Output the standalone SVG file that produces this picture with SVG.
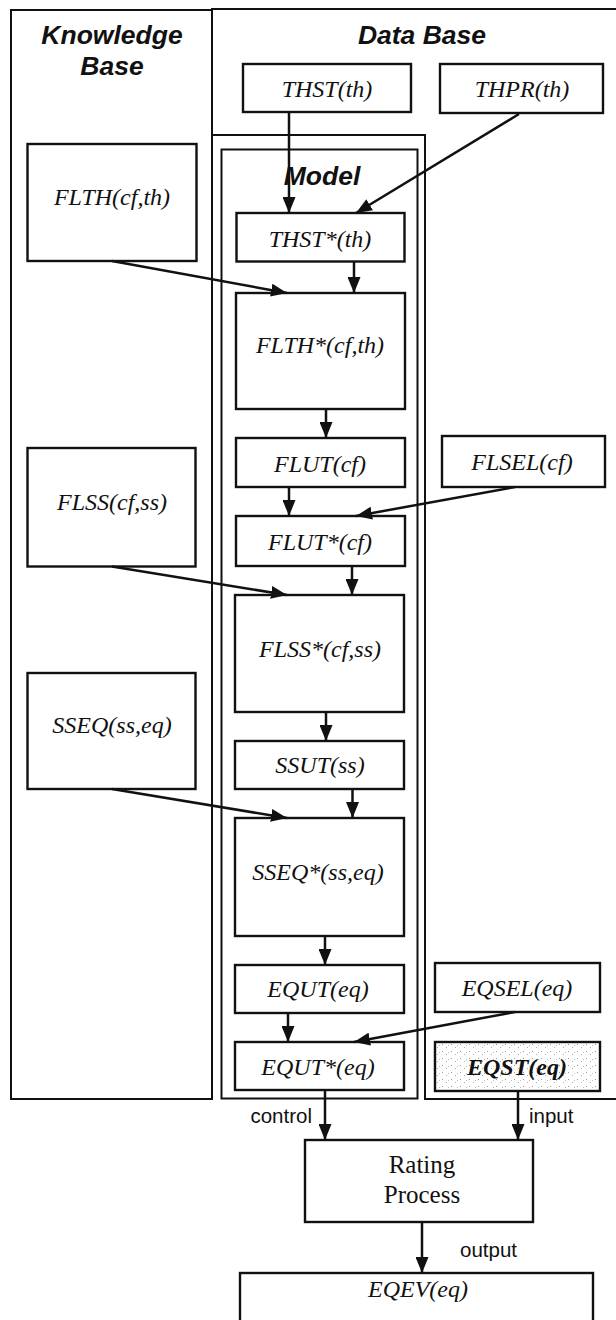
<svg xmlns="http://www.w3.org/2000/svg" width="616" height="1320" viewBox="0 0 616 1320">
<defs>
<style>
.frame{fill:none;stroke:#111;stroke-width:2}
.box{fill:#fff;stroke:#111;stroke-width:2.4}
.hdr{font-family:"Liberation Sans",Arial,sans-serif;font-weight:bold;font-style:italic;font-size:26.5px;fill:#111;text-anchor:middle}
.lbl{font-family:"Liberation Serif","Times New Roman",serif;font-style:italic;font-size:24px;fill:#111;text-anchor:middle}
.rp{font-family:"Liberation Serif","Times New Roman",serif;font-size:25px;fill:#111;text-anchor:middle}
.sm{font-family:"Liberation Sans",Arial,sans-serif;font-size:20.5px;fill:#111}
.conn path{fill:none;stroke:#111;stroke-width:2.5;marker-end:url(#ah)}
</style>
<marker id="ah" markerUnits="userSpaceOnUse" markerWidth="17" markerHeight="13" refX="16" refY="6.5" orient="auto">
<path d="M0,0 L16,6.5 L0,13 z" fill="#111"/>
</marker>
<pattern id="speck" width="9" height="7" patternUnits="userSpaceOnUse">
<rect x="1" y="1" width="1" height="1" fill="#999"/>
<rect x="5" y="4" width="1" height="1" fill="#aaa"/>
<rect x="7" y="2" width="1" height="1" fill="#bbb"/>
</pattern>
</defs>

<g id="frames">
<rect class="frame" x="11" y="10" width="201" height="1089"/>
<path class="frame" d="M212,1099 V9 H620 M620,1099 H425 V135 H212"/>
<rect class="frame" x="221.5" y="149.5" width="196" height="949"/>
<text class="hdr" x="112" y="44">Knowledge</text>
<text class="hdr" x="112" y="75">Base</text>
<text class="hdr" x="422" y="44">Data Base</text>
<text class="hdr" x="322" y="185">Model</text>
</g>

<g id="THST"><rect class="box" x="243" y="64" width="168" height="48"/><text class="lbl" x="327" y="97">THST(th)</text></g>
<g id="THPR"><rect class="box" x="440" y="64" width="163" height="49"/><text class="lbl" x="522" y="97">THPR(th)</text></g>
<g id="FLTH"><rect class="box" x="27.5" y="144" width="169" height="117"/><text class="lbl" x="112" y="205">FLTH(cf,th)</text></g>
<g id="THSTs"><rect class="box" x="236.5" y="213" width="168" height="48.5"/><text class="lbl" x="320" y="247">THST*(th)</text></g>
<g id="FLTHs"><rect class="box" x="236" y="293" width="169" height="116"/><text class="lbl" x="320" y="353">FLTH*(cf,th)</text></g>
<g id="FLUT"><rect class="box" x="236" y="438" width="169" height="49"/><text class="lbl" x="320" y="472">FLUT(cf)</text></g>
<g id="FLSEL"><rect class="box" x="442" y="436" width="163" height="51"/><text class="lbl" x="522" y="470">FLSEL(cf)</text></g>
<g id="FLSS"><rect class="box" x="27.5" y="448" width="168" height="118.5"/><text class="lbl" x="112" y="510">FLSS(cf,ss)</text></g>
<g id="FLUTs"><rect class="box" x="236" y="516" width="169" height="50"/><text class="lbl" x="320" y="550">FLUT*(cf)</text></g>
<g id="FLSSs"><rect class="box" x="235" y="595" width="169" height="117"/><text class="lbl" x="320" y="657">FLSS*(cf,ss)</text></g>
<g id="SSEQ"><rect class="box" x="27.5" y="673" width="168" height="116"/><text class="lbl" x="112" y="733">SSEQ(ss,eq)</text></g>
<g id="SSUT"><rect class="box" x="235" y="741" width="169" height="48"/><text class="lbl" x="320" y="773">SSUT(ss)</text></g>
<g id="SSEQs"><rect class="box" x="235" y="818" width="169" height="118"/><text class="lbl" x="318" y="880">SSEQ*(ss,eq)</text></g>
<g id="EQUT"><rect class="box" x="235" y="965" width="169" height="48"/><text class="lbl" x="318" y="997">EQUT(eq)</text></g>
<g id="EQSEL"><rect class="box" x="435" y="963" width="165" height="49"/><text class="lbl" x="517" y="996">EQSEL(eq)</text></g>
<g id="EQUTs"><rect class="box" x="235" y="1042" width="169" height="48"/><text class="lbl" x="318" y="1075">EQUT*(eq)</text></g>
<g id="EQST"><rect class="box" x="435" y="1042" width="165" height="49"/><rect x="437" y="1044" width="161" height="45" fill="url(#speck)"/><text class="lbl" x="517" y="1075" font-weight="bold">EQST(eq)</text></g>
<g id="Rating"><rect class="box" x="305" y="1140" width="228" height="82"/><text class="rp" x="422" y="1173">Rating</text><text class="rp" x="422" y="1203">Process</text></g>
<g id="EQEV"><rect class="box" x="240" y="1273" width="353" height="60"/><text class="lbl" x="418" y="1297">EQEV(eq)</text></g>

<g id="connectors" class="conn">
<path d="M289,112 L289,213"/>
<path d="M519,114 L356,213"/>
<path d="M354,261.5 L354,293"/>
<path d="M112,261 L287,293"/>
<path d="M326,409 L326,438"/>
<path d="M289,487 L289,516"/>
<path d="M515,487 L356,516"/>
<path d="M352,566 L352,595"/>
<path d="M112,566.5 L287,595"/>
<path d="M326,712 L326,741"/>
<path d="M352.5,789 L352.5,818"/>
<path d="M112,789 L287,818"/>
<path d="M325,936 L325,965"/>
<path d="M288,1013 L288,1042"/>
<path d="M515,1012 L354,1042"/>
<path d="M325,1090 L325,1140"/>
<path d="M518,1091 L518,1140"/>
<path d="M422,1222 L422,1273"/>
</g>
<g id="labels">
<text class="sm" x="312" y="1123" text-anchor="end">control</text>
<text class="sm" x="529" y="1123">input</text>
<text class="sm" x="460" y="1257">output</text>
</g>
</svg>
